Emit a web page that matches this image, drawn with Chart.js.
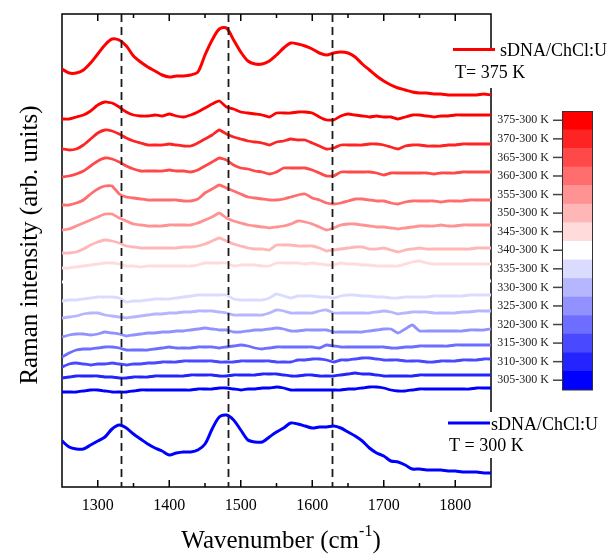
<!DOCTYPE html>
<html>
<head>
<meta charset="utf-8">
<script src="https://cdn.jsdelivr.net/npm/chart.js@4.4.0/dist/chart.umd.min.js"></script>
<style>
  html, body { margin: 0; padding: 0; background: #fff; }
  canvas { display: block; }
</style>
</head>
<body>
<canvas id="chart" width="608" height="556"></canvas>
<script>
// Raman shift grid (cm-1)
const wavenumbers = [
  1250, 1260, 1270, 1280, 1290, 1300, 1310, 1320, 1330, 1340,
  1350, 1360, 1370, 1380, 1390, 1400, 1410, 1420, 1430, 1440,
  1450, 1460, 1470, 1480, 1490, 1500, 1510, 1520, 1530, 1540,
  1550, 1560, 1570, 1580, 1590, 1600, 1610, 1620, 1630, 1640,
  1650, 1660, 1670, 1680, 1690, 1700, 1710, 1720, 1730, 1740,
  1750, 1760, 1770, 1780, 1790, 1800, 1810, 1820, 1830, 1840, 1850
];

// full spectra (offset, arb. units)
const spectrum375 = [
  41.8, 41.4, 41.4, 41.7, 42.4, 43.3, 44.2, 44.8, 44.7, 44.1,
  43.1, 42.5, 42.0, 41.6, 41.2, 41.0, 41.1, 41.1, 41.2, 41.5,
  43.2, 44.7, 45.8, 45.9, 44.7, 43.5, 42.6, 42.3, 42.3, 42.6,
  43.2, 43.9, 44.4, 44.3, 44.1, 43.8, 43.4, 43.2, 43.4, 43.5,
  43.4, 43.0, 42.3, 41.7, 41.1, 40.6, 40.2, 39.9, 39.7, 39.5,
  39.4, 39.4, 39.3, 39.3, 39.2, 39.2, 39.2, 39.2, 39.2, 39.3, 39.2
];
const spectrum300 = [
  4.6, 4.0, 3.8, 3.8, 4.2, 4.6, 5.0, 5.8, 6.2, 5.9,
  5.3, 4.8, 4.3, 3.9, 3.6, 3.2, 3.4, 3.5, 3.5, 3.7,
  4.3, 5.8, 7.0, 7.2, 6.7, 5.7, 4.7, 4.5, 4.5, 5.0,
  5.5, 5.9, 6.4, 6.3, 6.1, 5.9, 6.0, 6.0, 6.1, 5.9,
  5.5, 5.1, 4.6, 3.9, 3.4, 3.1, 2.6, 2.5, 2.2, 1.8,
  1.8, 1.7, 1.7, 1.7, 1.6, 1.6, 1.5, 1.5, 1.5, 1.4, 1.4
];

// difference spectra T - 300 K (offset, arb. units)
const diff375 = [
  36.8, 36.8, 37.0, 37.2, 37.6, 38.2, 38.5, 38.4, 38.0, 37.5,
  37.2, 37.1, 37.1, 37.2, 37.1, 37.3, 37.1, 37.0, 37.2, 37.5,
  37.9, 38.3, 38.6, 38.0, 37.8, 37.5, 37.4, 37.3, 37.2, 37.0,
  37.4, 37.4, 37.4, 37.5, 37.5, 37.4, 37.0, 36.7, 36.7, 37.1,
  37.3, 37.2, 37.1, 37.0, 37.1, 37.0, 37.0, 36.8, 37.0, 37.2,
  37.2, 37.1, 37.0, 37.1, 37.1, 37.2, 37.2, 37.2, 37.2, 37.2, 37.2
];
const diff370 = [
  33.8, 33.7, 33.8, 34.2, 34.8, 35.4, 35.7, 35.6, 35.3, 34.9,
  34.6, 34.4, 34.2, 34.2, 34.2, 34.3, 34.2, 34.1, 34.1, 34.4,
  34.8, 35.2, 35.7, 35.3, 35.0, 34.8, 34.6, 34.5, 34.4, 34.2,
  34.5, 34.6, 34.8, 34.7, 34.7, 34.4, 34.1, 33.8, 33.9, 34.2,
  34.2, 34.2, 34.2, 34.3, 34.3, 34.2, 34.0, 33.8, 34.1, 34.2,
  34.2, 34.1, 34.1, 34.1, 34.2, 34.2, 34.3, 34.3, 34.3, 34.3, 34.3
];
const diff365 = [
  31.0, 31.1, 31.3, 31.6, 32.1, 32.6, 32.9, 32.8, 32.5, 32.1,
  31.8, 31.6, 31.6, 31.6, 31.6, 31.7, 31.6, 31.6, 31.5, 31.7,
  32.1, 32.5, 32.9, 32.7, 32.2, 31.9, 31.8, 31.6, 31.5, 31.3,
  31.5, 31.9, 31.9, 31.9, 31.9, 31.7, 31.4, 31.1, 31.1, 31.5,
  31.5, 31.5, 31.5, 31.5, 31.4, 31.2, 31.4, 31.4, 31.4, 31.4,
  31.4, 31.4, 31.3, 31.4, 31.4, 31.4, 31.5, 31.5, 31.5, 31.5, 31.5
];
const diff360 = [
  28.2, 28.2, 28.4, 28.7, 29.3, 29.8, 30.1, 30.1, 29.3, 29.0,
  28.9, 28.8, 28.7, 28.7, 28.7, 28.7, 28.7, 28.6, 28.6, 28.8,
  29.4, 29.8, 30.2, 29.9, 29.6, 29.3, 29.0, 28.9, 28.8, 28.7,
  28.7, 28.8, 29.0, 29.2, 29.3, 28.9, 28.7, 28.4, 28.3, 28.4,
  28.6, 28.8, 28.8, 28.7, 28.6, 28.6, 28.4, 28.3, 28.5, 28.6,
  28.6, 28.6, 28.6, 28.5, 28.6, 28.6, 28.6, 28.7, 28.7, 28.7, 28.7
];
const diff355 = [
  25.7, 25.8, 26.1, 26.4, 26.7, 27.0, 27.3, 27.3, 26.9, 26.6,
  26.3, 26.2, 26.1, 26.1, 26.1, 26.2, 26.2, 26.2, 26.2, 26.4,
  26.7, 27.0, 27.4, 26.9, 26.6, 26.4, 26.2, 26.1, 26.0, 25.9,
  26.0, 26.1, 26.3, 26.6, 26.5, 26.3, 26.0, 25.7, 25.9, 26.2,
  26.3, 26.3, 26.2, 26.1, 26.0, 26.0, 25.9, 25.8, 25.9, 26.0,
  26.1, 26.1, 26.1, 26.2, 26.1, 26.1, 26.2, 26.2, 26.2, 26.2, 26.2
];
const diff350 = [
  23.4, 23.4, 23.5, 23.8, 24.2, 24.5, 24.7, 24.6, 24.4, 24.1,
  24.0, 23.9, 23.9, 23.9, 23.9, 23.9, 23.9, 24.0, 24.0, 24.1,
  24.3, 24.6, 24.9, 24.6, 24.3, 24.1, 23.9, 23.8, 23.8, 23.7,
  24.2, 24.2, 24.2, 24.1, 24.1, 24.1, 23.9, 23.6, 23.7, 23.8,
  23.9, 24.0, 24.0, 23.8, 23.8, 23.9, 23.7, 23.5, 23.7, 23.8,
  23.9, 23.8, 23.8, 23.8, 23.8, 23.8, 23.8, 23.8, 23.9, 23.9, 23.9
];
const diff345 = [
  21.9, 21.9, 22.0, 22.1, 22.2, 22.3, 22.4, 22.4, 22.3, 22.1,
  22.1, 22.0, 22.1, 22.1, 22.1, 22.1, 22.1, 22.1, 22.1, 22.2,
  22.4, 22.4, 22.4, 22.4, 22.1, 22.2, 22.2, 22.2, 22.1, 22.1,
  22.4, 22.4, 22.4, 22.4, 22.3, 22.4, 22.3, 22.2, 22.2, 22.4,
  22.3, 22.3, 22.2, 22.2, 22.1, 22.1, 22.1, 22.1, 22.3, 22.5,
  22.6, 22.4, 22.3, 22.3, 22.3, 22.3, 22.3, 22.3, 22.3, 22.3, 22.3
];
const diff340 = [
  20.5, 20.5, 20.6, 20.6, 20.6, 20.7, 20.7, 20.6, 20.6, 20.5,
  20.5, 20.5, 20.6, 20.6, 20.6, 20.6, 20.6, 20.6, 20.6, 20.7,
  20.7, 20.7, 20.7, 20.7, 20.5, 20.5, 20.5, 20.6, 20.6, 20.6,
  20.7, 20.6, 20.6, 20.6, 20.6, 20.6, 20.5, 20.5, 20.5, 20.6,
  20.6, 20.6, 20.6, 20.6, 20.6, 20.6, 20.6, 20.5, 20.6, 20.6,
  20.6, 20.6, 20.6, 20.6, 20.6, 20.6, 20.6, 20.6, 20.6, 20.6, 20.6
];
const diff335 = [
  18.6, 18.7, 18.7, 18.8, 18.9, 19.0, 19.0, 19.0, 18.9, 18.5,
  18.6, 18.6, 18.7, 18.8, 18.8, 18.8, 18.9, 19.0, 19.1, 19.2,
  19.2, 19.2, 19.2, 19.2, 18.8, 18.7, 18.7, 18.7, 18.7, 18.9,
  19.3, 19.1, 18.9, 19.1, 19.1, 19.1, 19.0, 19.0, 18.9, 19.1,
  19.2, 19.2, 19.1, 19.1, 19.0, 19.0, 18.9, 18.9, 19.0, 19.0,
  19.0, 19.0, 19.1, 19.1, 19.1, 19.1, 19.1, 19.2, 19.2, 19.2, 19.2
];
const diff330 = [
  16.9, 17.0, 17.1, 17.3, 17.4, 17.4, 17.2, 17.1, 17.0, 16.9,
  17.0, 17.1, 17.2, 17.3, 17.3, 17.4, 17.4, 17.5, 17.5, 17.6,
  17.6, 17.6, 17.5, 17.4, 17.2, 17.2, 17.2, 17.2, 17.2, 17.4,
  17.7, 17.6, 17.4, 17.4, 17.4, 17.4, 17.6, 17.7, 17.4, 17.4,
  17.4, 17.4, 17.4, 17.4, 17.5, 17.6, 17.5, 17.3, 17.4, 17.5,
  17.5, 17.5, 17.4, 17.4, 17.4, 17.4, 17.5, 17.5, 17.6, 17.6, 17.6
];
const diff325 = [
  15.0, 15.2, 15.3, 15.3, 15.2, 15.3, 15.5, 15.4, 15.3, 15.1,
  15.2, 15.3, 15.4, 15.4, 15.5, 15.5, 15.6, 15.6, 15.7, 15.8,
  15.9, 15.8, 15.7, 15.7, 15.5, 15.5, 15.6, 15.7, 15.7, 15.8,
  15.9, 15.8, 15.6, 15.6, 15.7, 15.7, 15.7, 15.7, 15.5, 15.5,
  15.5, 15.5, 15.5, 15.6, 15.7, 15.8, 15.8, 15.4, 15.8, 16.2,
  15.6, 15.6, 15.6, 15.6, 15.6, 15.6, 15.6, 15.7, 15.7, 15.7, 15.8
];
const diff320 = [
  13.0, 13.4, 13.7, 13.8, 13.8, 13.9, 14.0, 14.0, 13.9, 13.7,
  13.7, 13.7, 13.7, 13.8, 13.9, 14.0, 13.9, 13.9, 13.9, 14.0,
  14.0, 14.0, 13.9, 14.0, 14.1, 14.2, 14.1, 13.9, 13.8, 13.9,
  14.0, 14.0, 14.0, 14.0, 14.0, 14.0, 13.9, 14.2, 14.1, 14.0,
  14.0, 14.0, 14.0, 14.0, 14.0, 14.0, 13.9, 13.9, 14.0, 14.0,
  14.1, 14.1, 14.1, 14.1, 14.1, 14.2, 14.2, 14.2, 14.2, 14.2, 14.2
];
const diff315 = [
  12.0, 12.3, 12.4, 12.3, 12.2, 12.3, 12.3, 12.4, 12.3, 12.2,
  12.3, 12.3, 12.4, 12.4, 12.5, 12.5, 12.5, 12.6, 12.6, 12.6,
  12.6, 12.6, 12.5, 12.5, 12.5, 12.6, 12.6, 12.6, 12.6, 12.6,
  12.5, 12.5, 12.5, 12.7, 12.7, 12.8, 12.8, 12.7, 12.5, 12.7,
  12.7, 12.8, 12.9, 12.9, 12.8, 12.7, 12.7, 12.7, 12.6, 12.6,
  12.6, 12.5, 12.5, 12.6, 12.6, 12.6, 12.7, 12.7, 12.7, 12.8, 12.8
];
const diff310 = [
  10.9, 11.0, 11.1, 11.1, 11.1, 11.1, 11.0, 11.0, 10.9, 10.9,
  11.0, 11.0, 11.0, 11.1, 11.1, 11.1, 11.1, 11.1, 11.2, 11.2,
  11.2, 11.2, 11.1, 11.1, 11.2, 11.2, 11.2, 11.2, 11.3, 11.3,
  11.3, 11.2, 11.1, 11.1, 11.2, 11.2, 11.1, 11.1, 11.1, 11.2,
  11.3, 11.4, 11.3, 11.3, 11.2, 11.1, 11.1, 11.1, 11.1, 11.1,
  11.2, 11.2, 11.2, 11.2, 11.2, 11.2, 11.2, 11.2, 11.2, 11.2, 11.2
];
const diff305 = [
  9.5, 9.5, 9.5, 9.6, 9.7, 9.7, 9.6, 9.5, 9.5, 9.5,
  9.6, 9.7, 9.7, 9.7, 9.7, 9.7, 9.7, 9.7, 9.7, 9.8,
  9.8, 9.8, 9.9, 9.9, 9.8, 9.7, 9.8, 9.8, 9.9, 9.9,
  10.0, 9.9, 9.7, 9.7, 9.7, 9.7, 9.7, 9.7, 9.7, 9.7,
  9.8, 9.8, 9.9, 10.0, 10.0, 9.9, 9.7, 9.6, 9.6, 9.7,
  9.8, 9.8, 9.8, 9.8, 9.8, 9.8, 9.8, 9.8, 9.9, 9.9, 9.9
];

const diffLabels = [
  '375-300 K', '370-300 K', '365-300 K', '360-300 K', '355-300 K',
  '350-300 K', '345-300 K', '340-300 K', '335-300 K', '330-300 K',
  '325-300 K', '320-300 K', '315-300 K', '310-300 K', '305-300 K'
];
const diffColors = [
  '#ff0000', '#ff2424', '#ff4949', '#ff6d6d', '#ff9292',
  '#ffb6b6', '#ffdbdb', '#ffffff', '#dbdbff', '#b6b6ff',
  '#9292ff', '#6d6dff', '#4949ff', '#2424ff', '#0000ff'
];
const diffSeries = [
  diff375, diff370, diff365, diff360, diff355, diff350, diff345, diff340,
  diff335, diff330, diff325, diff320, diff315, diff310, diff305
];

const xTickLabels = [1300, 1400, 1500, 1600, 1700, 1800];
const xMinorTicks = [1350, 1450, 1550, 1650, 1750];
const markerLines = [1332, 1482, 1627];

const SERIF = '"Liberation Serif", "Times New Roman", serif';

const toPoints = (ys) => ys.map((y, i) => ({ x: wavenumbers[i], y }));

const datasets = [
  {
    label: 'sDNA/ChCl:U T= 375 K',
    data: toPoints(spectrum375),
    borderColor: '#ff0000',
    borderWidth: 3,
    tension: 0.3,
  },
  ...diffSeries.map((serie, i) => ({
    label: diffLabels[i],
    data: toPoints(serie),
    borderColor: diffColors[i],
    borderWidth: 2.8,
    tension: 0.15,
  })),
  {
    label: 'sDNA/ChCl:U T = 300 K',
    data: toPoints(spectrum300),
    borderColor: '#0000ff',
    borderWidth: 3,
    tension: 0.3,
  },
];

// frame, inward ticks, dashed markers, legends and colour bar
const decor = {
  id: 'decor',
  beforeDatasetsDraw(chart) {
    const { ctx, chartArea: a, scales: { x } } = chart;
    ctx.save();
    ctx.strokeStyle = '#000';
    ctx.lineWidth = 1.5;
    ctx.strokeRect(a.left, a.top, a.right - a.left, a.bottom - a.top);
    const tick = (v, len) => {
      const px = x.getPixelForValue(v);
      ctx.beginPath();
      ctx.moveTo(px, a.bottom);
      ctx.lineTo(px, a.bottom - len);
      ctx.moveTo(px, a.top);
      ctx.lineTo(px, a.top + len);
      ctx.stroke();
    };
    xTickLabels.forEach((v) => tick(v, 7));
    xMinorTicks.forEach((v) => tick(v, 4));
    ctx.restore();
  },
  afterDatasetsDraw(chart) {
    const { ctx, chartArea: a, scales: { x } } = chart;
    ctx.save();
    ctx.strokeStyle = '#1a1a1a';
    ctx.lineWidth = 1.8;
    ctx.setLineDash([8, 5]);
    markerLines.forEach((v) => {
      const px = Math.round(x.getPixelForValue(v)) + 0.5;
      ctx.beginPath();
      ctx.moveTo(px, a.top);
      ctx.lineTo(px, a.bottom);
      ctx.stroke();
    });
    ctx.restore();
  },
  afterDraw(chart) {
    const { ctx } = chart;
    ctx.save();

    // legends
    ctx.fillStyle = '#fff';
    ctx.fillRect(449, 51, 159, 37);
    ctx.fillRect(446, 412, 162, 46);

    ctx.lineWidth = 3;
    ctx.strokeStyle = '#ff0000';
    ctx.beginPath(); ctx.moveTo(453, 49.5); ctx.lineTo(495, 49.5); ctx.stroke();
    ctx.strokeStyle = '#0000ff';
    ctx.beginPath(); ctx.moveTo(448, 423); ctx.lineTo(490, 423); ctx.stroke();

    ctx.fillStyle = '#000';
    ctx.font = '18px ' + SERIF;
    ctx.textBaseline = 'middle';
    ctx.textAlign = 'left';
    ctx.fillText('sDNA/ChCl:U', 500, 51);
    ctx.fillText('T= 375 K', 455, 73);
    ctx.fillText('sDNA/ChCl:U', 491, 425);
    ctx.fillText('T = 300 K', 449, 446);

    // colour bar
    const barLeft = 562, barWidth = 30, barTop = 111, segH = 278.5 / diffColors.length;
    ctx.font = '12px ' + SERIF;
    ctx.textAlign = 'right';
    diffColors.forEach((c, i) => {
      const y0 = barTop + i * segH;
      ctx.fillStyle = c;
      ctx.fillRect(barLeft, y0, barWidth, segH + 0.5);
      const cy = y0 + segH / 2;
      ctx.strokeStyle = '#444';
      ctx.lineWidth = 1.5;
      ctx.beginPath(); ctx.moveTo(553, cy); ctx.lineTo(barLeft, cy); ctx.stroke();
      ctx.fillStyle = '#222';
      ctx.fillText(diffLabels[i], 549, cy);
    });
    ctx.strokeStyle = '#333';
    ctx.lineWidth = 1;
    ctx.strokeRect(barLeft + 0.5, barTop + 0.5, barWidth, segH * diffColors.length);

    // axis titles
    ctx.fillStyle = '#000';
    ctx.textAlign = 'center';
    ctx.save();
    ctx.translate(30, 245);
    ctx.rotate(-Math.PI / 2);
    ctx.font = '25px ' + SERIF;
    ctx.fillText('Raman intensity (arb. units)', 0, 0);
    ctx.restore();

    ctx.textBaseline = 'alphabetic';
    ctx.textAlign = 'left';
    const main = 'Wavenumber (cm';
    const sup = '-1';
    ctx.font = '25px ' + SERIF;
    const w1 = ctx.measureText(main).width;
    const w3 = ctx.measureText(')').width;
    ctx.font = '16px ' + SERIF;
    const w2 = ctx.measureText(sup).width;
    const x0 = 281 - (w1 + w2 + w3) / 2;
    ctx.font = '25px ' + SERIF;
    ctx.fillText(main, x0, 548);
    ctx.font = '16px ' + SERIF;
    ctx.fillText(sup, x0 + w1, 536);
    ctx.font = '25px ' + SERIF;
    ctx.fillText(')', x0 + w1 + w2, 548);

    ctx.restore();
  },
};

new Chart(document.getElementById('chart'), {
  type: 'line',
  data: { datasets },
  plugins: [decor],
  options: {
    responsive: false,
    animation: false,
    devicePixelRatio: 1,
    layout: { padding: { left: 0, right: 117, top: 14, bottom: 0 } },
    elements: { point: { radius: 0 } },
    plugins: {
      legend: { display: false },
      tooltip: { enabled: false },
    },
    scales: {
      x: {
        type: 'linear',
        min: 1250,
        max: 1850,
        afterBuildTicks: (scale) => {
          scale.ticks = xTickLabels.map((v) => ({ value: v }));
        },
        afterFit: (scale) => { scale.height = 69; },
        grid: { display: false },
        border: { display: false },
        ticks: {
          color: '#000',
          font: { family: SERIF, size: 16 },
          padding: 1,
          maxRotation: 0,
          autoSkip: false,
          callback: (value) => String(value),
        },
      },
      y: {
        min: 0,
        max: 47.3,
        afterFit: (scale) => { scale.width = 62; },
        grid: { display: false },
        border: { display: false },
        ticks: { display: false },
      },
    },
  },
});
</script>
</body>
</html>
